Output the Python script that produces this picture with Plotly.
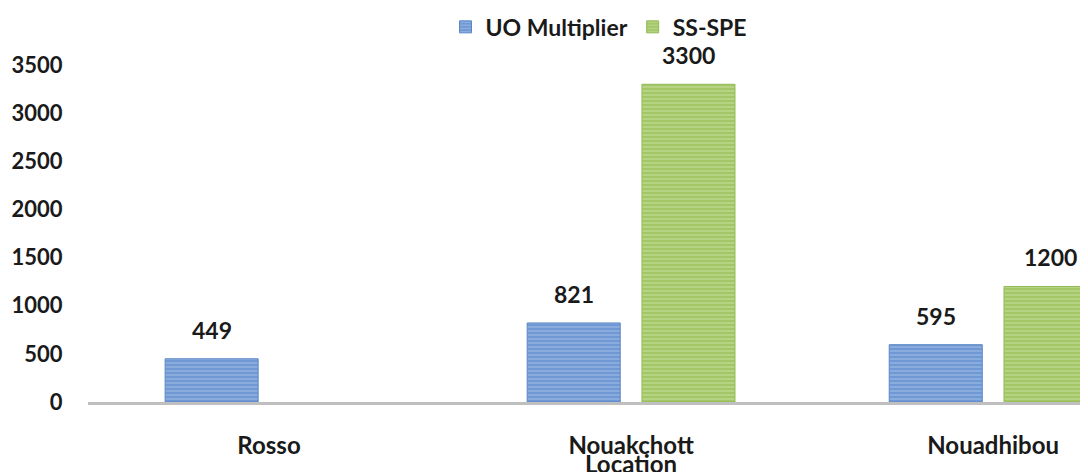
import plotly.graph_objects as go

categories = ["Rosso", "Nouakchott", "Nouadhibou"]
category_second_line = [None, "Location", None]
series_names = ["UO Multiplier", "SS-SPE"]
uo_values = [449, 821, 595]
ss_values = [None, 3300, 1200]
y_ticks = [0, 500, 1000, 1500, 2000, 2500, 3000, 3500]

FONT = "Lato"
TXT = "#1a1a1a"
bar_w = 0.257
offsets = [-0.287, 0.030]
x_idx = list(range(len(categories)))

fig = go.Figure()
styles = [
    dict(bg="#6F98D4", fg="#B9D0EE", line="#5A86C6"),
    dict(bg="#A3C766", fg="#D6E8B8", line="#93B955"),
]
for name, vals, off, st in zip(series_names, [uo_values, ss_values], offsets, styles):
    fig.add_trace(go.Bar(
        name=name, x=x_idx, y=vals, width=bar_w, offset=off,
        marker=dict(color=st["bg"],
                    line=dict(color=st["line"], width=1),
                    pattern=dict(shape="-", fgcolor=st["fg"], bgcolor=st["bg"],
                                 size=4, solidity=0.35, fillmode="overlay")),
    ))
    for xi, v in zip(x_idx, vals):
        if v is None:
            continue
        fig.add_annotation(x=xi + off + bar_w / 2, y=v, text=f"{v}", showarrow=False,
                           yanchor="bottom", yshift=13,
                           font=dict(family=FONT, size=23, color=TXT, weight=700))

for xi, t in zip(x_idx, category_second_line):
    if t:
        fig.add_annotation(x=xi, y=0, yref="y", text=t, showarrow=False,
                           yanchor="middle", yshift=-61,
                           font=dict(family=FONT, size=24, color=TXT, weight=700))

fig.update_layout(
    width=1080, height=464,
    margin=dict(l=80, r=0, t=57, b=70, autoexpand=False),
    plot_bgcolor="white", paper_bgcolor="white",
    barmode="overlay",
    showlegend=True,
    legend=dict(orientation="h", x=0.511, xanchor="center", y=1.113, yanchor="middle",
                font=dict(family=FONT, size=23, color=TXT, weight=700),
                itemwidth=30, traceorder="normal"),
    font=dict(family=FONT, size=22, color=TXT, weight=700),
)
fig.update_xaxes(
    range=[-0.5, 2.262], tickmode="array", tickvals=x_idx, ticktext=categories,
    showgrid=False, showline=True, linecolor="#BFBFBF", linewidth=3,
    ticks="outside", ticklen=20, tickcolor="rgba(0,0,0,0)",
    tickfont=dict(family=FONT, size=24, color=TXT, weight=700),
    zeroline=False, automargin=False,
)
fig.update_yaxes(
    range=[0, 3500], tickmode="array", tickvals=y_ticks,
    showgrid=False, showline=False, zeroline=False,
    ticks="outside", ticklen=20, tickcolor="rgba(0,0,0,0)",
    tickfont=dict(family=FONT, size=22, color=TXT, weight=700),
    automargin=False,
)
fig.write_html("out.html")
